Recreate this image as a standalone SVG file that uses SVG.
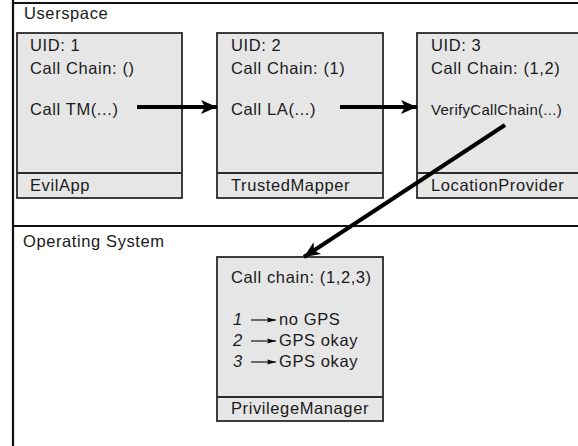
<svg xmlns="http://www.w3.org/2000/svg" width="578" height="446" viewBox="0 0 578 446">
<style>
text{font-family:"Liberation Sans",Arial,sans-serif;font-size:16.5px;letter-spacing:0.6px;fill:#1a1a1a}
.box{fill:#e6e6e7;stroke:#2a2a2a;stroke-width:1.8}
.frame{stroke:#111;stroke-width:2.2;fill:none}
.conn{stroke:#000;stroke-width:4;fill:none}
.thin{stroke:#000;stroke-width:1.1;fill:none}
</style>
<defs>
<marker id="ah" markerUnits="userSpaceOnUse" markerWidth="16" markerHeight="14" refX="16" refY="7" orient="auto"><path d="M0,0 L16,7 L0,14 L4,7 Z" fill="#000"/></marker>
<marker id="sh" markerUnits="userSpaceOnUse" markerWidth="9" markerHeight="6" refX="9" refY="3" orient="auto"><path d="M0,0.5 L9,3 L0,5.5 L1.5,3 Z" fill="#000"/></marker>
</defs>
<rect width="578" height="446" fill="#fff"/>
<g id="frame">
<path class="frame" d="M13,0 V446 M12,3 H578 M12,226 H578"/>
<text x="24" y="19">Userspace</text>
<text x="23" y="247">Operating System</text>
</g>
<g id="evilapp">
<rect class="box" x="17" y="33" width="165" height="165"/>
<line class="box" x1="17" y1="173" x2="182" y2="173"/>
<text x="30" y="51">UID: 1</text>
<text x="30" y="74">Call Chain: ()</text>
<text x="30" y="115">Call TM(...)</text>
<text x="30" y="191">EvilApp</text>
</g>
<g id="trustedmapper">
<rect class="box" x="217" y="33" width="166" height="165"/>
<line class="box" x1="217" y1="173" x2="383" y2="173"/>
<text x="231" y="51">UID: 2</text>
<text x="231" y="74">Call Chain: (1)</text>
<text x="231" y="115">Call LA(...)</text>
<text x="231" y="191">TrustedMapper</text>
</g>
<g id="locationprovider">
<rect class="box" x="417" y="33" width="170" height="165"/>
<line class="box" x1="417" y1="173" x2="587" y2="173"/>
<text x="431" y="51">UID: 3</text>
<text x="431" y="74">Call Chain: (1,2)</text>
<text x="431" y="115" style="font-size:15px;letter-spacing:0.3px">VerifyCallChain(...)</text>
<text x="431" y="191">LocationProvider</text>
</g>
<g id="privilegemanager">
<rect class="box" x="217" y="257" width="166" height="164"/>
<line class="box" x1="217" y1="397" x2="383" y2="397"/>
<text x="231" y="283">Call chain: (1,2,3)</text>
<text x="233" y="325" font-style="italic">1</text>
<text x="233" y="346" font-style="italic">2</text>
<text x="233" y="367" font-style="italic">3</text>
<line class="thin" x1="251" y1="320" x2="276" y2="320" marker-end="url(#sh)"/>
<line class="thin" x1="251" y1="341" x2="276" y2="341" marker-end="url(#sh)"/>
<line class="thin" x1="251" y1="362" x2="276" y2="362" marker-end="url(#sh)"/>
<text x="279" y="325">no GPS</text>
<text x="279" y="346">GPS okay</text>
<text x="279" y="367">GPS okay</text>
<text x="231" y="414">PrivilegeManager</text>
</g>
<g id="connectors">
<line class="conn" x1="137" y1="107" x2="217" y2="107" marker-end="url(#ah)"/>
<line class="conn" x1="340" y1="107" x2="417" y2="107" marker-end="url(#ah)"/>
<line class="conn" x1="505" y1="125" x2="304" y2="257" marker-end="url(#ah)"/>
</g>
</svg>
